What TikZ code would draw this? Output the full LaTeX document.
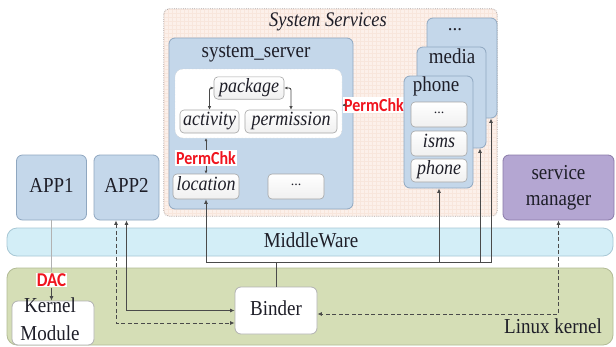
\documentclass[tikz,border=0pt]{standalone}
\usepackage{fontspec}
\setmainfont{Liberation Serif}
\newfontfamily\pcfont{Carlito}
\usetikzlibrary{arrows.meta,calc}
\definecolor{bluefill}{HTML}{C4D7EA}
\definecolor{blueline}{HTML}{8FA7C0}
\definecolor{mwfill}{HTML}{D3EEF7}
\definecolor{mwline}{HTML}{A8C8D5}
\definecolor{kfill}{HTML}{D5DEB6}
\definecolor{kline}{HTML}{B2BB96}
\definecolor{smfill}{HTML}{B4A6D2}
\definecolor{smline}{HTML}{8A7BA8}
\definecolor{ssfill}{HTML}{FCF0EA}
\definecolor{ssgrid}{HTML}{F8E6DC}
\definecolor{ssline}{HTML}{B0A4A0}
\definecolor{lnk}{HTML}{4A4A4A}
\definecolor{pcred}{HTML}{F0141E}
\definecolor{txt}{HTML}{1E1E28}
\newcommand{\tx}[1]{\scalebox{1}[1.12]{\begin{tabular}{@{}c@{}}#1\end{tabular}}}
\newcommand{\pcx}[1]{\scalebox{1}[1.15]{#1}}
\begin{document}
\begin{tikzpicture}[x=1pt,y=-1pt,
  every node/.style={text=txt},
  boxb/.style={draw=blueline,fill=bluefill,rounded corners=6pt,line width=0.8pt,inner sep=0pt},
  wbox/.style={draw=gray!70,top color=white,bottom color=gray!12,rounded corners=4pt,line width=0.6pt,inner sep=0pt,font=\fontsize{18}{20}\selectfont\itshape},
  lbl/.style={font=\fontsize{19}{23}\selectfont,align=center,inner sep=0pt},
  pc/.style={fill=white,inner sep=1pt,font=\fontsize{16}{18}\pcfont\bfseries,text=pcred},
  link/.style={draw=lnk,line width=0.9pt},
  dsh/.style={dash pattern=on 4pt off 2.5pt},
  tip/.style={-{Latex[length=4.5pt,width=4pt]}},
  tips/.style={{Latex[length=4.5pt,width=4pt]}-{Latex[length=4.5pt,width=4pt]}},
  stips/.style={{Latex[length=3pt,width=3pt]}-{Latex[length=3.5pt,width=3.5pt]}}
]
\useasboundingbox (0,0) rectangle (616,346);
\fill[white] (0,0) rectangle (616,346);

% bands
\node[draw=kline,fill=kfill,rounded corners=10pt,line width=0.8pt,minimum width=606pt,minimum height=77pt,inner sep=0pt] (kernel) at (310,306.5) {};
\node[draw=mwline,fill=mwfill,rounded corners=10pt,line width=0.8pt,minimum width=606pt,minimum height=28pt,inner sep=0pt] (mw) at (310,242) {};
\node[lbl] (mwtext) at (311,242) {\tx{MiddleWare}};
\node[lbl] (lktext) at (553,328) {\tx{Linux kernel}};

% System Services frame
\node[fill=ssfill,rounded corners=5pt,minimum width=333pt,minimum height=207pt,inner sep=0pt] (svc) at (330.5,112.5) {};
\begin{scope}
  \clip[rounded corners=5pt] (164,9) rectangle (497,216);
  \foreach \i in {0,...,83} {\draw[ssgrid,line width=0.3pt] (164+4*\i,9) -- (164+4*\i,216);}
  \foreach \j in {0,...,52} {\draw[ssgrid,line width=0.3pt] (164,9+4*\j) -- (497,9+4*\j);}
\end{scope}
\draw[ssline,densely dotted,line width=0.8pt,rounded corners=5pt] (svc.north west) rectangle (svc.south east);
\node[lbl,font=\fontsize{18.5}{22}\selectfont\itshape] (svctext) at (328,22) {\tx{System Services}};

% system_server
\node[boxb,minimum width=184pt,minimum height=171pt] (sserver) at (261,123.5) {};
\node[lbl] (sstext) at (256,52) {\tx{system\_server}};
\node[draw=gray!45,densely dotted,fill=white,rounded corners=8pt,minimum width=167pt,minimum height=69pt,inner sep=0pt] (inner) at (258.5,103.5) {};
\node[wbox,minimum width=70pt,minimum height=22pt] (package) at (249,88) {\tx{package}};
\node[wbox,minimum width=59pt,minimum height=23pt] (activity) at (209.5,121.5) {\tx{activity}};
\node[wbox,minimum width=92pt,minimum height=23pt] (permission) at (291,121.5) {\tx{permission}};
\node[wbox,minimum width=66pt,minimum height=25pt] (location) at (206,186.5) {\tx{location}};
\node[wbox,font=\fontsize{14}{16}\selectfont,minimum width=56pt,minimum height=25pt] (sdots) at (296,186.5) {\raisebox{3pt}{...}};
\node[pc] (pc1) at (374,105) {\pcx{PermChk}};
\node[pc] (pc2) at (206,158) {\pcx{PermChk}};

% app service stack
\node[boxb,minimum width=70pt,minimum height=100pt] (stdots) at (462,68) {};
\node[lbl] (stdotst) at (455,30) {...};
\node[boxb,minimum width=69pt,minimum height=101pt] (media) at (451.5,97.5) {};
\node[lbl] (mediat) at (452,58) {\tx{media}};
\node[boxb,minimum width=69pt,minimum height=112pt] (phonebox) at (438.5,132) {};
\node[lbl] (phonet) at (436,86) {\tx{phone}};
\node[wbox,font=\fontsize{14}{16}\selectfont,minimum width=56pt,minimum height=25pt] (pdots) at (439,114.5) {\raisebox{3pt}{...}};
\node[wbox,minimum width=56pt,minimum height=25pt] (isms) at (439,143.5) {\tx{isms}};
\node[wbox,minimum width=56pt,minimum height=23pt] (phonei) at (439,170.5) {\tx{phone}};

% apps and service manager
\node[boxb,minimum width=70pt,minimum height=65pt] (app1) at (51.5,187.5) {};
\node[lbl] (app1t) at (51.5,187) {\tx{APP1}};
\node[boxb,minimum width=65pt,minimum height=65pt] (app2) at (126.5,187.5) {};
\node[lbl] (app2t) at (126.5,187) {\tx{APP2}};
\node[draw=smline,fill=smfill,rounded corners=6pt,line width=0.8pt,minimum width=111pt,minimum height=65pt,inner sep=0pt] (sm) at (558.5,187.5) {};
\node[lbl] (smt) at (558.5,187) {\tx{service\\manager}};

% kernel parts
\node[draw=gray!60,fill=white,rounded corners=6pt,line width=0.8pt,minimum width=82pt,minimum height=44pt,inner sep=0pt] (kmod) at (53,323) {};
\node[lbl,font=\fontsize{19}{25}\selectfont] (kmodt) at (50,321) {\tx{Kernel\\Module}};
\node[draw=gray!60,fill=white,rounded corners=6pt,line width=0.8pt,minimum width=82pt,minimum height=47pt,inner sep=0pt] (binder) at (276,310.5) {};
\node[lbl] (bindert) at (276,310.5) {\tx{Binder}};

% DAC
\draw[gray!60,line width=0.7pt] (app1.south) -- (51.5,272);
\node[pc,font=\fontsize{17}{19}\pcfont\bfseries] (dac) at (51.5,280) {\pcx{DAC}};
\draw[link,tip,line width=0.7pt] (dac.south) -- (dac.south |- kmod.north);

% internal links
\draw[link,stips,rounded corners=2pt] (package.west) -| (activity.north);
\draw[link,stips,rounded corners=2pt] (package.east) -| (permission.north);
\draw[link,-{Latex[length=3.5pt,width=3.5pt]}] (pc1.west) -- (pc1.west -| inner.east);
\draw[link,-{Latex[length=3pt,width=3pt]}] (pc2.north) -- (pc2.north |- inner.south);
\draw[link,-{Latex[length=3pt,width=3pt]}] (pc2.south) -- (pc2.south |- location.north);

% binder bus
\coordinate (bus) at (276,262);
\draw[link] (binder.north) -- (bus);
\draw[link,tip] (bus) -| (location.south);
\draw[link,tip] (bus) -| (phonei.south |- phonebox.south);
\draw[link,tip] (bus) -| ($(media.south)+(28.5,0)$);
\draw[link,tip] (bus) -| ($(stdots.south)+(29,0)$);

% apps to binder
\draw[link,tips] (app2.south) |- (binder.west);
\draw[link,tips,dsh] ($(app2.south)+(-10.5,0)$) |- ($(binder.west)+(0,12.5)$);
\draw[link,tips,dsh] (sm.south) |- ($(binder.east)+(0,3.5)$);
\end{tikzpicture}
\end{document}
